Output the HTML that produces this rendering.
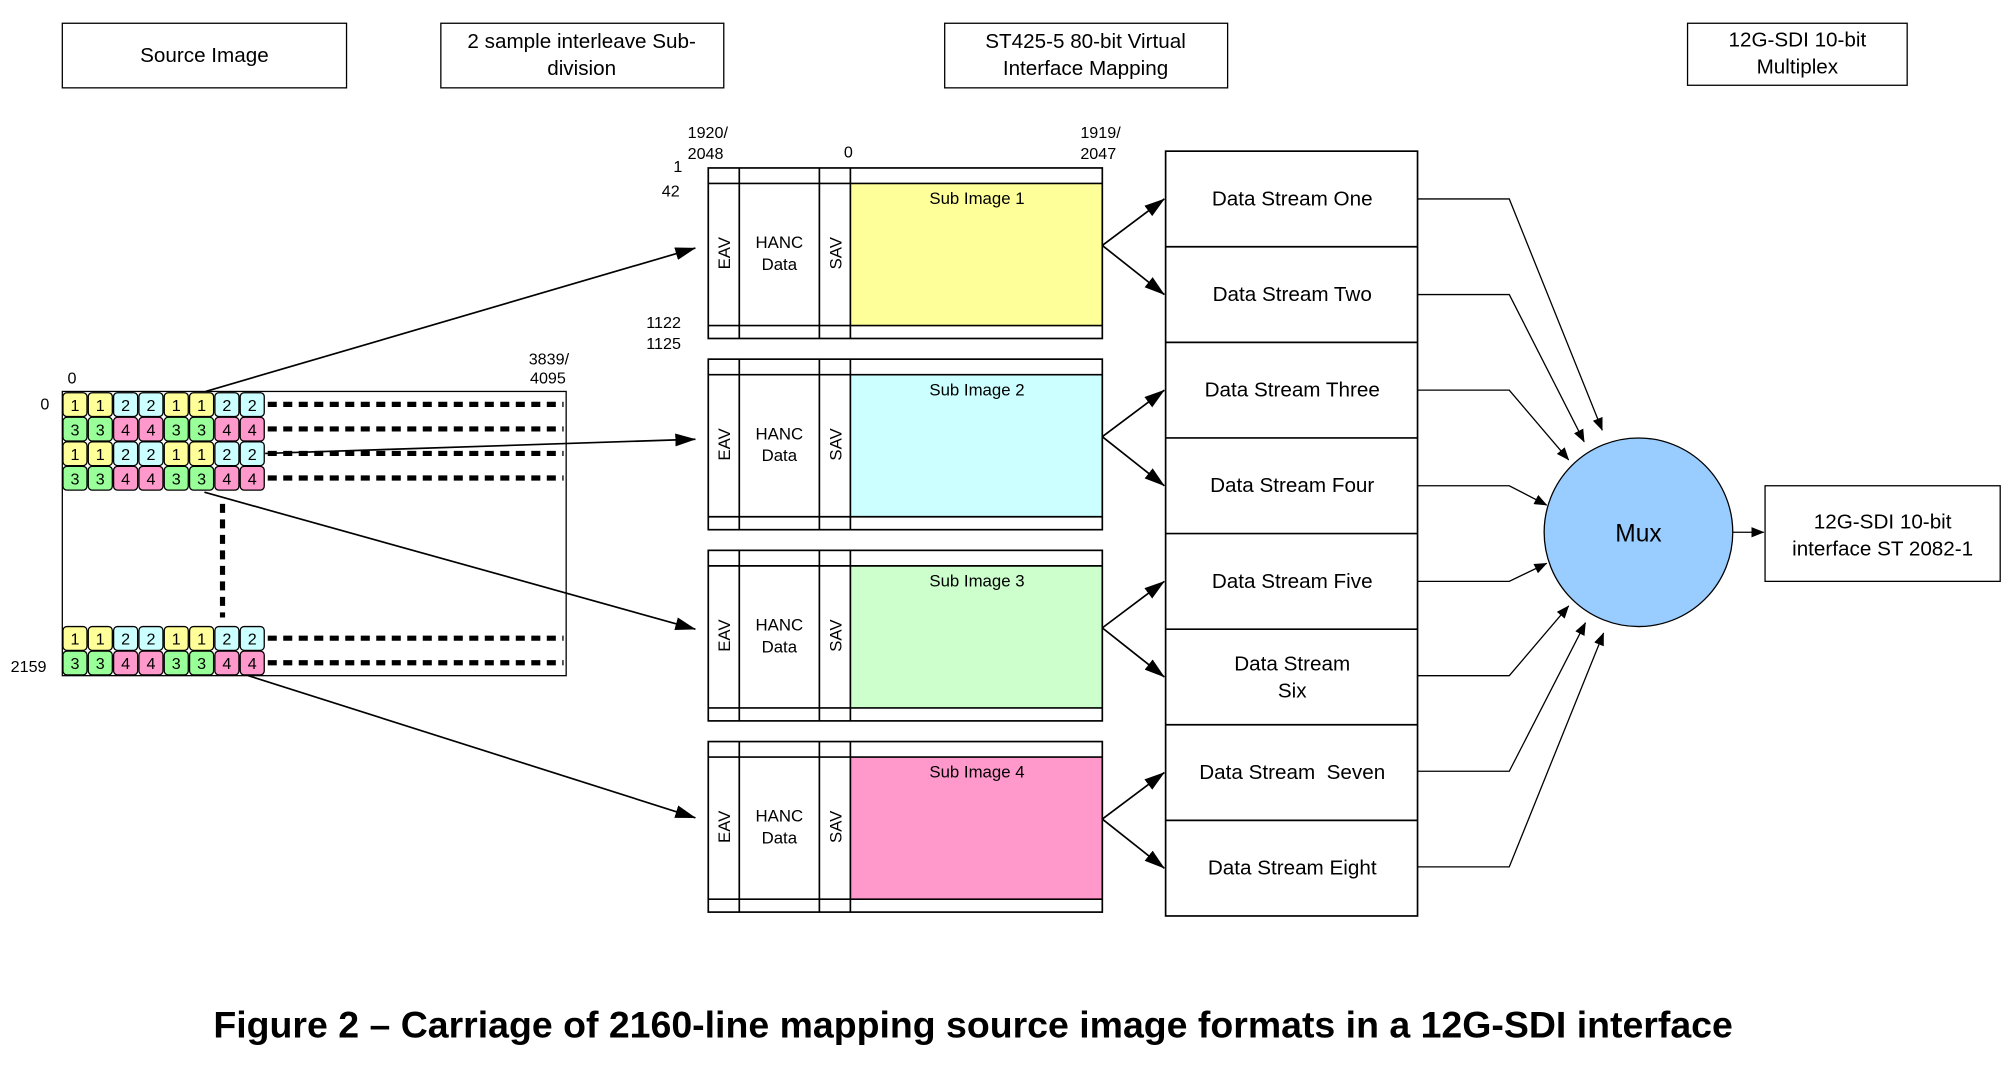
<!DOCTYPE html>
<html><head><meta charset="utf-8"><style>
html,body{margin:0;padding:0;background:#fff;width:2016px;height:1071px;overflow:hidden}
svg{display:block}
text{font-family:"Liberation Sans",sans-serif;fill:#000}
</style></head><body>
<svg width="2016" height="1071" viewBox="0 0 1560 829" xmlns="http://www.w3.org/2000/svg">
<defs>
<marker id="a" markerWidth="10" markerHeight="8" refX="9.5" refY="4" orient="auto" markerUnits="userSpaceOnUse">
<path d="M0,0 L10,4 L0,8 z" fill="#000"/></marker>
<marker id="b" markerWidth="16" markerHeight="10" refX="15.5" refY="5" orient="auto" markerUnits="userSpaceOnUse">
<path d="M0,0 L16,5 L0,10 z" fill="#000"/></marker>
</defs>
<g fill="none" stroke="#000" stroke-width="1">
<rect x="48" y="18" width="220" height="50"/>
<rect x="341" y="18" width="219" height="50"/>
<rect x="731" y="18" width="219" height="50"/>
<rect x="1306" y="18" width="170" height="48"/>
</g>
<g font-size="16" text-anchor="middle">
<text x="158" y="48">Source Image</text>
<text x="450" y="37">2 sample interleave Sub-</text>
<text x="450" y="58">division</text>
<text x="840" y="37">ST425-5 80-bit Virtual</text>
<text x="840" y="58">Interface Mapping</text>
<text x="1391" y="36">12G-SDI 10-bit</text>
<text x="1391" y="57">Multiplex</text>
</g>
<g font-size="12.5">
<text x="532" y="107">1920/</text><text x="532" y="123">2048</text>
<text x="521" y="133">1</text><text x="512" y="152">42</text>
<text x="653" y="122">0</text>
<text x="836" y="107">1919/</text><text x="836" y="123">2047</text>
<text x="500" y="254">1122</text><text x="500" y="270">1125</text>
<text x="52" y="297">0</text>
<text x="409" y="282">3839/</text><text x="410" y="297">4095</text>
<text x="31" y="317">0</text>
<text x="8" y="520">2159</text>
</g>
<!-- Source box -->
<rect x="48" y="303" width="390" height="220" fill="none" stroke="#000"/>
<g id="cells" font-size="12.5" text-anchor="middle" stroke-width="1">
</g>
<g stroke="#000" stroke-width="4" stroke-dasharray="7,5" fill="none">
<line x1="207" y1="313" x2="436" y2="313"/>
<line x1="207" y1="332" x2="436" y2="332"/>
<line x1="207" y1="351" x2="436" y2="351"/>
<line x1="207" y1="370" x2="436" y2="370"/>
<line x1="207" y1="494" x2="436" y2="494"/>
<line x1="207" y1="513" x2="436" y2="513"/>
<line x1="172" y1="390" x2="172" y2="478"/>
</g>
<!-- source arrows -->
<g stroke="#000" stroke-width="1.3" fill="none" marker-end="url(#b)">
<line x1="159" y1="303" x2="538" y2="192"/>
<line x1="205" y1="351" x2="538" y2="340"/>
<line x1="158" y1="381" x2="538" y2="487"/>
<line x1="192" y1="523" x2="538" y2="633"/>
</g>
<g id="blocks"></g>
<!-- data streams -->
<g fill="none" stroke="#000" stroke-width="1.3">
<rect x="902" y="117" width="195" height="592"/>
<line x1="902" y1="191" x2="1097" y2="191"/><line x1="902" y1="265" x2="1097" y2="265"/>
<line x1="902" y1="339" x2="1097" y2="339"/><line x1="902" y1="413" x2="1097" y2="413"/>
<line x1="902" y1="487" x2="1097" y2="487"/><line x1="902" y1="561" x2="1097" y2="561"/>
<line x1="902" y1="635" x2="1097" y2="635"/>
</g>
<g font-size="16" text-anchor="middle">
<text x="1000" y="159">Data Stream One</text>
<text x="1000" y="233">Data Stream Two</text>
<text x="1000" y="307">Data Stream Three</text>
<text x="1000" y="381">Data Stream Four</text>
<text x="1000" y="455">Data Stream Five</text>
<text x="1000" y="519">Data Stream</text><text x="1000" y="540">Six</text>
<text x="1000" y="603">Data Stream&#160; Seven</text>
<text x="1000" y="677">Data Stream Eight</text>
</g>
<g stroke="#000" stroke-width="1" fill="none" marker-end="url(#a)">
<polyline points="1097,154 1168,154 1240,333"/>
<polyline points="1097,228 1168,228 1226,342"/>
<polyline points="1097,302 1168,302 1214,356"/>
<polyline points="1097,376 1168,376 1197,391"/>
<polyline points="1097,450 1168,450 1197,436"/>
<polyline points="1097,523 1168,523 1214,469"/>
<polyline points="1097,597 1168,597 1227,482"/>
<polyline points="1097,671 1168,671 1241,490"/>
<line x1="1341" y1="412" x2="1365" y2="412"/>
</g>
<circle cx="1268" cy="412" r="73" fill="#99ccff" stroke="#000" stroke-width="1"/>
<text x="1268" y="419" font-size="19" text-anchor="middle">Mux</text>
<rect x="1366" y="376" width="182" height="74" fill="none" stroke="#000"/>
<text x="1457" y="409" font-size="16" text-anchor="middle">12G-SDI 10-bit</text>
<text x="1457" y="430" font-size="16" text-anchor="middle">interface ST 2082-1</text>
<text x="753" y="803" font-size="29" font-weight="bold" text-anchor="middle">Figure 2 – Carriage of 2160-line mapping source image formats in a 12G-SDI interface</text>
</svg>
<script>
(function(){
var NS="http://www.w3.org/2000/svg";
function el(p,t,a,txt){var e=document.createElementNS(NS,t);for(var k in a)e.setAttribute(k,a[k]);if(txt!=null)e.textContent=txt;p.appendChild(e);return e;}
var c=document.getElementById('cells');
var rowA=[[1,'#ffff99'],[1,'#ffff99'],[2,'#ccffff'],[2,'#ccffff'],[1,'#ffff99'],[1,'#ffff99'],[2,'#ccffff'],[2,'#ccffff']];
var rowB=[[3,'#99ff99'],[3,'#99ff99'],[4,'#ff99cc'],[4,'#ff99cc'],[3,'#99ff99'],[3,'#99ff99'],[4,'#ff99cc'],[4,'#ff99cc']];
var rows=[[304,rowA],[323,rowB],[342,rowA],[361,rowB],[485,rowA],[504,rowB]];
rows.forEach(function(r){r[1].forEach(function(cl,i){var x=48.5+i*19.6;
el(c,'rect',{x:x,y:r[0],width:18.6,height:18.4,rx:3,fill:cl[1],stroke:'#000'});
el(c,'text',{x:x+9.3,y:r[0]+14},cl[0]);});});
var b=document.getElementById('blocks');
var cols=['#ffff99','#ccffff','#ccffcc','#ff99cc'];
[130,278,426,574].forEach(function(y,i){
el(b,'rect',{x:658,y:y+12,width:195,height:110,fill:cols[i]});
var g=el(b,'g',{stroke:'#000','stroke-width':1.3,fill:'none'});
el(g,'rect',{x:548,y:y,width:305,height:132});
el(g,'line',{x1:548,y1:y+12,x2:853,y2:y+12});
el(g,'line',{x1:548,y1:y+122,x2:853,y2:y+122});
[572,634,658].forEach(function(x){el(g,'line',{x1:x,y1:y,x2:x,y2:y+132});});
el(b,'text',{x:756,y:y+28,'font-size':13,'text-anchor':'middle'},'Sub Image '+(i+1));
el(b,'text',{x:603,y:y+62,'font-size':13,'text-anchor':'middle'},'HANC');
el(b,'text',{x:603,y:y+79,'font-size':13,'text-anchor':'middle'},'Data');
el(b,'text',{x:0,y:0,'font-size':13,'text-anchor':'middle',transform:'translate(565,'+(y+66)+') rotate(-90)'},'EAV');
el(b,'text',{x:0,y:0,'font-size':13,'text-anchor':'middle',transform:'translate(651,'+(y+66)+') rotate(-90)'},'SAV');
var a=el(b,'g',{stroke:'#000','stroke-width':1.3,fill:'none'});
el(a,'line',{x1:853,y1:y+60,x2:901,y2:y+24,'marker-end':'url(#b)'});
el(a,'line',{x1:853,y1:y+60,x2:901,y2:y+98,'marker-end':'url(#b)'});
});
})();
</script>
</body></html>
